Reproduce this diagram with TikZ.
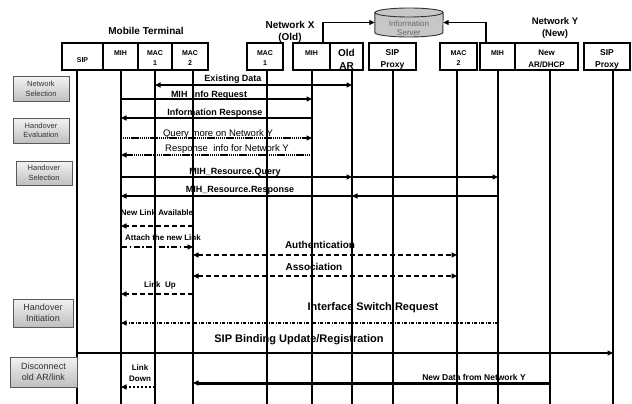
\documentclass[tikz,border=0pt]{standalone}
\usepackage{fontspec}
\setmainfont{Liberation Sans}
\usetikzlibrary{arrows.meta}
\begin{document}
\begin{tikzpicture}[x=1pt,y=-1pt,>={Triangle[length=5.5pt,width=5pt]}]
    % page size
    \useasboundingbox (0,0) rectangle (632,404);
    % bottom end of the lifelines
    \def\yend{404}
    % node style definition
    \tikzstyle{entity} = [draw, line width=1.1pt, rectangle, inner sep=0pt];
    \tikzstyle{etext} = [inner sep=0pt, align=center];
    \tikzstyle{title} = [align=center, font=\bfseries\fontsize{10}{12}\selectfont];
    \tikzstyle{phase} = [draw=black!65, line width=1pt, top color=black!5,
    	bottom color=black!25, text=black!80, align=center, inner sep=1pt];
    \tikzstyle{server} = [draw=black!80, line width=0.9pt, fill=black!22];
    % line style definition
    \tikzstyle{life} = [line width=1.3pt];
    \tikzstyle{srvline} = [line width=1.1pt, ->];
    \tikzstyle{solidmsg} = [line width=1.8pt, ->];
    \tikzstyle{existmsg} = [line width=2pt, <->];
    \tikzstyle{dotmsg} = [line width=1.5pt, dash pattern=on 1.3pt off 0.6pt, ->];
    \tikzstyle{thinmsg} = [line width=1.2pt, ->];
    \tikzstyle{dashmsg} = [line width=1.8pt, dash pattern=on 5pt off 3pt, ->];
    \tikzstyle{dashboth} = [line width=1.8pt, dash pattern=on 5pt off 3pt, <->];
    \tikzstyle{dashdotmsg} = [line width=1.8pt, dash pattern=on 6pt off 2.5pt on 1.5pt off 2.5pt, ->];
    \tikzstyle{switchmsg} = [line width=1.1pt, dash pattern=on 3pt off 1.5pt on 1pt off 1.5pt, ->];
    \tikzstyle{downmsg} = [line width=1.5pt, dash pattern=on 2.5pt off 1.5pt, ->];
    \tikzstyle{datamsg} = [line width=3pt, ->];
    % label style definition
    \tikzstyle{lblb} = [inner sep=0pt, font=\bfseries\fontsize{9}{10}\selectfont];
    \tikzstyle{lblr} = [inner sep=0pt, font=\fontsize{9.5}{10}\selectfont];
    \tikzstyle{lbls} = [inner sep=0pt, align=center, font=\bfseries\fontsize{8}{10.5}\selectfont];
    \tikzstyle{lblm} = [inner sep=0pt, font=\bfseries\fontsize{10}{11}\selectfont];
    \tikzstyle{lblL} = [inner sep=0pt, font=\bfseries\fontsize{11}{12}\selectfont];
    \tikzstyle{lbld} = [inner sep=0pt, font=\bfseries\fontsize{8.5}{10}\selectfont];

    % titles
    \node[title] (mt) at (146,31) {Mobile Terminal};
    \node[title] (nx) at (290,31.5) {Network X\\(Old)};
    \node[title, font=\bfseries\fontsize{9.5}{12}\selectfont] (ny) at (555,28) {Network Y\\(New)};

    % information server (cylinder drawn round a named node)
    \node[minimum width=68pt, minimum height=29pt, inner sep=0pt] (info) at (409,22.5) {};
    \draw[server] (info.west |- 0,12.5) -- (info.west |- 0,32.5)
    	arc[start angle=180, end angle=360, x radius=34pt, y radius=4.5pt]
    	-- (info.east |- 0,12.5)
    	arc[start angle=0, end angle=180, x radius=34pt, y radius=4.5pt] -- cycle;
    \draw[server, fill=none] (info.west |- 0,12.5)
    	arc[start angle=180, end angle=360, x radius=34pt, y radius=4.5pt];
    \node[etext, text=black!60, font=\fontsize{8}{9}\selectfont] (infotxt) at (409,28.5) {Information\\Server};

    % entity boxes: name/left/right/lifeline x/text/text y/font size/skip
    \foreach \nm/\xa/\xb/\lx/\txt/\ty/\fs/\bs in {
    	sip/62/103/77/SIP/60/7/9,
    	mih/103/138/121/MIH/53/7/9,
    	maca/138/172/155/{MAC\\1}/58/7/10,
    	macb/172/208/193/{MAC\\2}/58/7/10,
    	xmac/247/283/267/{MAC\\1}/58/7/10,
    	xmih/293/330/312/MIH/53/7/9,
    	oldar/330/363/352/{Old\\AR}/59/10/13,
    	xsip/369/416/393/{SIP\\Proxy}/59/8.5/12,
    	ymac/440/477/457/{MAC\\2}/58/7/10,
    	ymih/480/515/498/MIH/53/7/9,
    	newar/515/578/550/{New\\AR/DHCP}/59/8/12,
    	ysip/584/630/613/{SIP\\Proxy}/59/8.5/12}
    {
    	\node[entity, minimum width={\xb pt-\xa pt}, minimum height=27pt]
    		(\nm) at ({(\xa+\xb)/2},56.5) {};
    	\node[etext, font=\bfseries\fontsize{\fs}{\bs}\selectfont]
    		(\nm-txt) at ({(\xa+\xb)/2},\ty) {\txt};
    	\coordinate (\nm-t) at (\lx,70);
    	\coordinate (\nm-b) at (\lx,\yend);
    	\draw[life] (\nm-t) -- (\nm-b);
    }

    % MIH entities to the server
    \draw[srvline] (xmih.north -| 323,0) |- (info.west);
    \draw[srvline] (ymih.north -| 486,0) |- (info.east);

    % phase boxes
    \foreach \nm/\x/\y/\w/\h/\fs/\bs/\txt in {
    	netsel/41/89/56/24/7.5/9.5/{Network\\Selection},
    	hoeval/41/130.5/56/25/7.5/9.5/{Handover\\Evaluation},
    	hosel/44/173/56/24/7.5/9.5/{Handover\\Selection},
    	hoinit/43/313/60/28/9/11/{Handover\\Initiation},
    	disc/43.5/372/67/30/9/11/{Disconnect\\old AR/link}}
    {
    	\node[phase, minimum width=\w pt, minimum height=\h pt,
    		font=\fontsize{\fs}{\bs}\selectfont] (\nm) at (\x,\y) {\txt};
    }

    % messages: from/to/y/style
    \foreach \src/\dst/\y/\st in {
    	maca/oldar/85/existmsg,
    	mih/xmih/99/solidmsg,
    	xmih/mih/118/solidmsg,
    	mih/xmih/138/dotmsg,
    	xmih/mih/155/dotmsg,
    	mih/oldar/177/thinmsg,
    	oldar/ymih/177/thinmsg,
    	ymih/oldar/196/thinmsg,
    	oldar/mih/196/thinmsg,
    	macb/mih/226/dashmsg,
    	mih/macb/247/dashdotmsg,
    	macb/ymac/255/dashboth,
    	macb/ymac/276/dashboth,
    	macb/mih/294/dashmsg,
    	ymih/mih/323/switchmsg,
    	sip/ysip/353/solidmsg,
    	newar/macb/383/datamsg,
    	maca/mih/387/downmsg}
    {
    	\draw[\st] (\src-t |- 0,\y) -- (\dst-t |- 0,\y);
    }

    % message labels: name/x/y/style/text
    \foreach \nm/\x/\y/\st/\txt in {
    	exist/233/79/lblb/Existing Data,
    	inforeq/209/95/lblb/MIH\ \ Info Request,
    	inforesp/215/113/lblb/Information Response,
    	query/218/134/lblr/Query more on Network Y,
    	resp/227/149.5/lblr/Response\ \ info for Network Y,
    	resq/235/172/lblb/MIH\_Resource.Query,
    	resr/240/190.5/lblb/MIH\_Resource.Response,
    	newlink/157/213/lbls/New Link Available,
    	attach/163/238/lbls/Attach the new Link,
    	auth/320/245/lblm/Authentication,
    	assoc/314/267/lblm/Association,
    	linkup/160/285/lbls/Link\ \ Up,
    	switch/373/308/lblL/Interface Switch Request,
    	binding/299/340/lblL/{SIP Binding Update/Registration},
    	linkdown/140/373/lbls/{Link\\Down},
    	newdata/474/377/lbld/New Data from Network Y}
    {
    	\node[\st] (l-\nm) at (\x,\y) {\txt};
    }
\end{tikzpicture}
\end{document}
